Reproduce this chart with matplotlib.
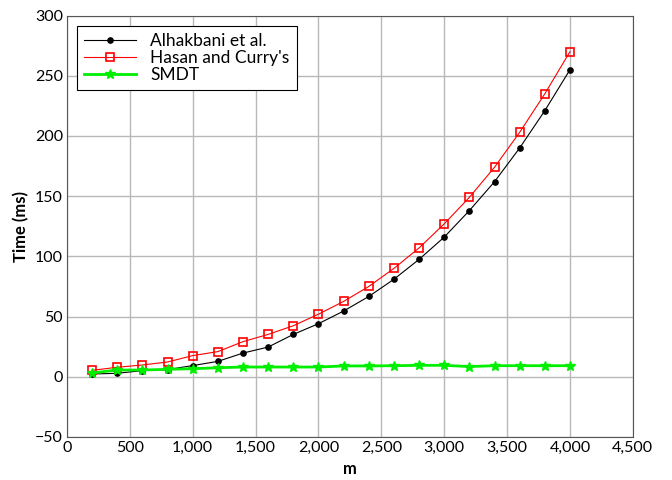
import matplotlib
matplotlib.use("Agg")
import matplotlib.pyplot as plt

m = [200, 400, 600, 800, 1000, 1200, 1400, 1600, 1800, 2000,
     2200, 2400, 2600, 2800, 3000, 3200, 3400, 3600, 3800, 4000]

alhakbani = [2.3, 2.9, 5.1, 6.0, 9.3, 12.8, 19.7, 24.7, 35.2, 44.1,
             54.6, 66.7, 81, 97.5, 116, 138, 162, 190, 221, 255]
hasan = [5.4, 7.9, 9.8, 12.3, 17.6, 20.9, 29.2, 35.2, 42.4, 52,
         62.6, 75, 90, 107, 127, 149, 174, 203, 235, 270]
smdt = [3.2, 5.6, 5.6, 6.2, 6.7, 7.5, 8.1, 8.1, 8.1, 8.1,
        9.0, 9.0, 9.2, 9.5, 9.5, 8.5, 9.2, 9.2, 9.2, 9.2]

plt.rcParams['font.family'] = ['Lato', 'DejaVu Sans']

fig = plt.figure(figsize=(6.72, 4.8), dpi=100)
ax = fig.add_axes([0.0997, 0.0896, 0.842, 0.878])

ax.plot(m, alhakbani, color='black', lw=0.8, marker='o', ms=3.8, label='Alhakbani et al.')
ax.plot(m, hasan, color='red', lw=0.8, marker='s', ms=5.5, mfc='none', mew=1.2,
        label="Hasan and Curry's")
ax.plot(m, smdt, color='#00ee00', lw=2, marker='*', ms=7.5, label='SMDT')

ax.set_xlim(0, 4500)
ax.set_ylim(-50, 300)
ax.set_xticks(range(0, 4501, 500))
ax.set_xticklabels([f"{v:,}" for v in range(0, 4501, 500)])
ax.set_yticks(range(-50, 301, 50))
ax.set_yticklabels([str(v).replace('-', '\u2212') for v in range(-50, 301, 50)])
ax.tick_params(length=0, labelsize=11.5, pad=3)
ax.grid(True, color='#b8b8b8', lw=1)
ax.set_axisbelow(True)
for s in ax.spines.values():
    s.set_color('#555555')

ax.set_xlabel('m', fontsize=12, fontweight='bold')
ax.set_ylabel('Time (ms)', fontsize=12, fontweight='bold')

leg = ax.legend(loc='upper left', fontsize=12.5, fancybox=False, edgecolor='black',
                framealpha=1, borderaxespad=0.6, handlelength=3, labelspacing=0.05)
leg.get_frame().set_linewidth(0.8)

fig.savefig('out.png', dpi=100)
